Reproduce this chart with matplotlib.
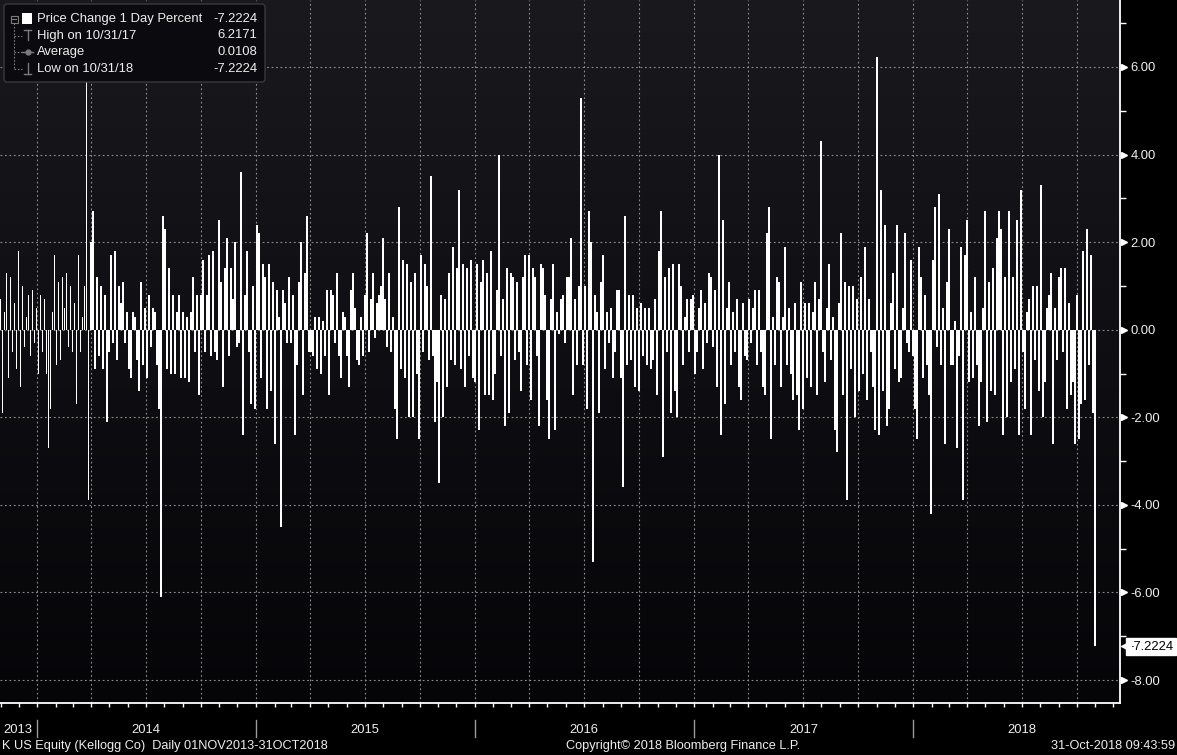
import numpy as np
import pandas as pd
import matplotlib
matplotlib.use("Agg")
import matplotlib.pyplot as plt
import matplotlib.dates as mdates
from matplotlib.colors import LinearSegmentedColormap
from matplotlib.patches import FancyBboxPatch, Rectangle
from matplotlib.lines import Line2D
from matplotlib.transforms import Affine2D, blended_transform_factory
from matplotlib.ticker import FixedLocator, FuncFormatter

plt.rcParams['font.family'] = ['Liberation Sans', 'DejaVu Sans']

# ---------------- data ----------------
start_date = "2013-11-01"
end_date = "2018-10-31"
pct_change = [
    0.7, -1.9, 0.4, 1.3, -1.1, 1.2, -0.5, 0.6, -0.9, 1.8,
    -1.3, 1.0, -0.4, 0.3, 0.8, -0.6, 0.9, -0.3, 0.5, -1.0,
    0.8, -0.5, 0.7, -1.0, -2.7, -1.8, 0.4, 1.7, -0.8, 1.1,
    -0.7, 1.2, 0.5, 1.3, -0.4, 1.0, -0.5, 0.6, -1.7, 1.7,
    -0.5, 0.3, 1.0, 5.9, -3.9, 2.0, 2.7, -0.9, 1.2, -0.6,
    1.0, -0.9, 0.8, -2.1, -0.5, 1.7, -0.3, 1.8, -0.7, 1.0,
    0.6, 1.1, -0.3, 0.4, -0.9, -1.1, 0.4, 0.3, -0.7, -1.4,
    1.1, -0.8, 0.5, -1.1, 0.8, -0.4, 0.5, 0.4, -0.8, -1.8,
    -6.1, 2.6, 2.3, -0.9, 1.4, -1.0, 0.8, -1.0, 0.4, 0.8,
    -1.1, 0.4, -1.1, 0.3, -1.2, 0.4, 1.2, -0.5, 0.8, -1.5,
    0.8, 1.6, -0.5, 0.8, 1.7, -0.6, 1.8, -0.5, -0.7, 2.5,
    1.1, -1.3, 1.4, 2.1, -0.6, 1.4, 0.7, 2.0, -0.4, -0.3,
    3.6, -2.4, 0.8, 1.8, -0.5, -1.7, 1.0, -1.8, 2.4, 2.2,
    -1.1, 1.5, 1.2, -1.8, 1.5, -1.4, 1.1, -2.6, 0.9, 0.3,
    -4.5, 0.9, 0.6, -0.3, 1.2, -0.3, 0.8, -2.4, -0.8, 1.1,
    2.0, -1.5, 1.3, 2.6, -0.5, -0.5, -0.6, 0.3, -0.9, 0.3,
    -1.0, 0.2, -0.6, 0.9, -1.5, 0.9, 0.8, -0.3, 1.3, -0.6,
    -1.1, 0.4, 0.3, -0.6, -1.3, 0.9, 1.3, 0.5, -0.7, -0.8,
    0.3, -0.6, 0.8, 2.2, -0.5, 0.7, 1.3, -0.2, 0.6, 0.8,
    1.0, 2.1, 0.7, -0.4, 1.3, -0.5, 0.3, -1.8, -2.5, 2.8,
    -0.9, 1.6, -1.1, 1.5, -2.0, 1.1, -2.0, 1.3, -1.0, -2.5,
    1.7, -0.5, 1.5, 1.0, -0.7, 3.5, -0.6, -2.1, -1.2, -3.5,
    0.8, -2.0, 0.7, -1.3, 1.3, -0.7, 1.9, -0.8, 1.4, 3.2,
    -0.9, 1.5, -1.3, 1.4, -0.6, 1.6, -1.1, -1.2, 1.5, -2.3,
    1.1, 1.6, -1.5, 1.3, -1.5, 1.8, -1.6, -1.0, 0.9, 4.0,
    -0.6, 0.7, -2.2, 1.4, -1.9, 1.3, 1.2, -0.7, 1.1, -0.5,
    -1.4, 1.2, 1.7, -0.8, 1.7, -1.6, 1.4, 1.2, -0.6, -2.2,
    1.5, 1.4, 0.8, -1.6, -2.5, 0.7, 1.5, -2.3, 0.4, -0.1,
    0.7, 0.8, -0.3, 1.2, 1.2, 2.1, -1.5, 0.7, -0.8, 1.0,
    5.3, -0.8, 1.0, -1.8, 2.7, 2.0, -5.3, 0.8, 0.4, -1.9,
    1.1, 1.7, -0.9, 0.4, -0.3, 0.5, -1.1, -0.5, 0.9, 0.9,
    -1.1, -3.6, 2.6, -0.8, 0.8, -0.7, 0.8, -1.3, 0.5, -1.4,
    0.6, -0.6, 0.5, -0.8, 0.5, -0.9, -0.7, 0.7, -1.5, 1.8,
    2.7, -2.9, 1.2, -0.5, 1.4, -1.9, 1.5, -1.4, -2.0, 1.5,
    1.0, -0.8, 0.3, 0.7, -0.5, 0.7, 0.8, -1.0, -0.5, 0.5,
    0.9, -0.9, 0.6, -0.3, 1.3, 1.2, -0.4, 0.9, -1.3, 4.0,
    -2.4, 2.5, -1.7, 0.5, 1.1, -0.8, 0.4, -0.5, 0.7, -1.3,
    -1.6, 0.6, -0.6, -0.7, 0.7, -0.3, 0.5, 0.9, -0.8, 0.9,
    -0.5, -1.3, -1.5, 2.2, 2.8, -2.5, 0.3, -0.8, 1.2, 1.1,
    -1.3, 0.3, 1.9, -0.8, 0.5, -1.0, -1.6, 0.6, -1.5, -2.3,
    1.1, -1.8, 0.6, -1.1, 0.6, -1.3, 0.4, 1.1, -1.5, 0.7,
    4.3, -0.5, -1.2, 0.5, 1.5, -0.7, 0.3, -2.3, -2.8, 0.6,
    2.2, -1.5, 1.1, -3.9, 1.0, -0.9, 1.0, -2.0, 0.7, -1.4,
    1.2, -1.0, 1.9, -1.6, 0.7, -0.5, -1.3, -2.3, 6.2171, -2.4,
    3.2, -1.4, 2.4, -2.2, -1.8, 0.6, 1.3, -0.9, 2.4, -1.2,
    -1.1, 0.5, 2.2, -0.3, -0.5, 1.6, -0.6, -1.8, -2.5, 1.9,
    1.2, -1.1, 0.8, -0.8, -1.5, -4.2, 1.6, 2.8, -0.4, 3.1,
    -0.8, 0.5, -2.6, 1.1, 2.3, -0.8, -0.8, 0.2, -2.7, -0.6,
    1.9, -3.9, 1.7, 2.5, -1.2, 0.4, -1.1, 1.2, -0.8, -2.2,
    -1.2, 0.5, 2.7, -2.1, 1.1, -1.4, 1.4, -1.5, 2.1, 2.7,
    2.3, -2.4, 1.2, -2.0, 2.7, -1.2, 1.2, -0.9, 2.5, -2.4,
    3.2, -0.5, -1.8, 0.4, 0.7, -2.4, 1.0, -0.7, 1.0, -1.4,
    3.3, -2.0, -1.2, 0.5, 0.8, 1.3, -2.6, 0.5, -0.7, 1.2,
    1.4, -0.5, 1.4, -1.8, 0.6, -1.5, -1.2, -2.6, 0.8, -2.5,
    -1.7, 1.8, -1.6, 2.3, -0.8, 1.7, -1.9, -7.2224,
]
y_ticks = [-8, -6, -4, -2, 0, 2, 4, 6]
year_labels = ["2013", "2014", "2015", "2016", "2017", "2018"]
legend_labels = ["Price Change 1 Day Percent", "High on 10/31/17", "Average", "Low on 10/31/18"]
legend_values = ["-7.2224", "6.2171", "0.0108", "-7.2224"]
footer_left = "K US Equity (Kellogg Co)  Daily 01NOV2013-31OCT2018"
footer_mid = "Copyright\u00a9 2018 Bloomberg Finance L.P."
footer_right = "31-Oct-2018 09:43:59"

FS = 9.4
TXT = "#eeeeee"

# ---------------- figure ----------------
W, H = 1177, 755
fig = plt.figure(figsize=(W / 100, H / 100), dpi=100, facecolor="black")
ax = fig.add_axes([0, 1 - 703 / H, 1120 / W, 703 / H])
ax.set_facecolor("black")

dates = pd.date_range(start_date, end_date, periods=len(pct_change))
step_days = (dates[1] - dates[0]) / pd.Timedelta(days=1)

# gradient background
grad = np.linspace(1, 0, 256).reshape(-1, 1)
cmap = LinearSegmentedColormap.from_list("bg", ["#050508", "#0f0f13", "#19191e"])
ax.imshow(grad, extent=[0, 1, 0, 1], transform=ax.transAxes, cmap=cmap,
          aspect="auto", zorder=0, interpolation="bilinear")

ax.bar(dates, pct_change, width=step_days * 0.88, color="white", linewidth=0,
       antialiased=True, zorder=3)

x0 = pd.Timestamp(start_date) - pd.Timedelta(days=1)
x1 = x0 + pd.Timedelta(days=1120 / (219 / 365.25))
ax.set_xlim(x0, x1)
ax.set_ylim(-8.525, 7.53)

# grid
ax.set_axisbelow(True)
ax.xaxis.set_major_locator(mdates.MonthLocator(bymonth=(1, 4, 7, 10)))
ax.xaxis.set_minor_locator(mdates.MonthLocator())
ax.xaxis.set_major_formatter(FuncFormatter(lambda v, p: ""))
ax.yaxis.set_major_locator(FixedLocator(y_ticks))
ax.yaxis.set_minor_locator(FixedLocator([v + 1 for v in y_ticks]))
ax.grid(True, which="major", color="#8c8c8c", linestyle=(0, (1.6, 2.4)), linewidth=0.8, zorder=1)

for s in ["left", "top"]:
    ax.spines[s].set_visible(False)
for s in ["right", "bottom"]:
    ax.spines[s].set_color("white")
    ax.spines[s].set_linewidth(1.3)
    ax.spines[s].set_zorder(5)

ax.tick_params(axis="x", which="both", direction="out", length=3, width=1, colors="white")
ax.yaxis.tick_right()
ax.tick_params(axis="y", which="major", direction="out", length=0, pad=7.5,
               colors=TXT, labelsize=FS)
ax.tick_params(axis="y", which="minor", direction="out", length=4, width=1, colors="white")
ax.yaxis.set_major_formatter(FuncFormatter(lambda v, p: f"{v:.2f}"))

# triangle markers at major y ticks
ty = blended_transform_factory(ax.transAxes, ax.transData)
ax.plot([1.0035] * len(y_ticks), y_ticks, linestyle="none", marker=">", markersize=4.5,
        color="white", transform=ty, clip_on=False, zorder=6)

# year separators and labels
tx = blended_transform_factory(ax.transData, ax.transAxes)
for yr in year_labels:
    ystart = pd.Timestamp(f"{yr}-01-01")
    if ystart > x0:
        ax.add_line(Line2D([mdates.date2num(ystart)] * 2, [-0.024, -0.049], transform=tx,
                           color="#9a9a9a", linewidth=1, clip_on=False))
    left = max(ystart, x0)
    mid = left + (pd.Timestamp(f"{yr}-12-31") - left) / 2
    ax.text(mdates.date2num(mid), -0.039, yr, transform=tx, ha="center", va="center",
            color=TXT, fontsize=FS, clip_on=False)

# last value tag
last = pct_change[-1]
ax.annotate(f"{last:.4f}", xy=(1.0, last), xycoords=("axes fraction", "data"),
            xytext=(6.5, -0.5), textcoords="offset points", ha="left", va="center",
            color="black", fontsize=FS,
            bbox=dict(boxstyle="square,pad=0.2", fc="white", ec="white"),
            annotation_clip=False, zorder=7)
ax.plot([1.0055], [last], marker="<", markersize=7, color="white", transform=ty,
        clip_on=False, zorder=8)

# ---------------- legend (pixel coordinates, top-left origin) ----------------
pix = Affine2D().scale(1 / W, -1 / H).translate(0, 1) + fig.transFigure
fig.patches.append(FancyBboxPatch((4, 4), 261, 78, boxstyle="round,pad=0,rounding_size=3",
                                  transform=pix, fc="#0b0b0f", ec="#3a3a3e", lw=1, zorder=10))
row_y = [19, 35.5, 52, 68.5]
tree_c = "#7a7a7a"
fig.lines.append(Line2D([14, 14], [23, 68.5], transform=pix, color=tree_c, lw=0.8,
                        linestyle=(0, (1.5, 1.5)), zorder=11))
fig.patches.append(Rectangle((10.5, 15.5), 7, 7, transform=pix, fc="none", ec=tree_c, lw=0.8, zorder=11))
fig.lines.append(Line2D([12, 16], [19, 19], transform=pix, color=tree_c, lw=0.8, zorder=11))
fig.patches.append(Rectangle((22, 13), 10, 11, transform=pix, fc="white", ec="none", zorder=11))
for ry in row_y[1:]:
    fig.lines.append(Line2D([14, 22], [ry, ry], transform=pix, color=tree_c, lw=0.8,
                            linestyle=(0, (1.5, 1.5)), zorder=11))
fig.lines.append(Line2D([24, 31], [29.5, 29.5], transform=pix, color=tree_c, lw=1, zorder=11))
fig.lines.append(Line2D([27.5, 27.5], [29.5, 40], transform=pix, color=tree_c, lw=1, zorder=11))
fig.lines.append(Line2D([22, 33], [52, 52], transform=pix, color=tree_c, lw=1, zorder=11))
fig.lines.append(Line2D([27.5], [52], transform=pix, color=tree_c, marker="o", markersize=3.5,
                        linestyle="none", zorder=11))
fig.lines.append(Line2D([24, 31], [74, 74], transform=pix, color=tree_c, lw=1, zorder=11))
fig.lines.append(Line2D([27.5, 27.5], [63, 74], transform=pix, color=tree_c, lw=1, zorder=11))
for ry, lab, val in zip(row_y, legend_labels, legend_values):
    fig.text(37, ry, lab, transform=pix, ha="left", va="center", color=TXT,
             fontsize=FS, zorder=12)
    fig.text(257, ry, val, transform=pix, ha="right", va="center", color=TXT,
             fontsize=FS, zorder=12)

# ---------------- footer ----------------
fig.text(2, 746, footer_left, transform=pix, ha="left", va="center", color=TXT, fontsize=9.2)
fig.text(683, 746, footer_mid, transform=pix, ha="center", va="center", color=TXT, fontsize=9.2)
fig.text(1175, 746, footer_right, transform=pix, ha="right", va="center", color=TXT, fontsize=9.2)

fig.savefig("out.png", dpi=100, facecolor="black")
